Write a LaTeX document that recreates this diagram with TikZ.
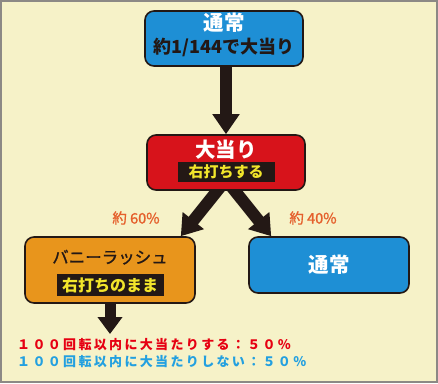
\documentclass[tikz,border=0pt]{standalone}
\usepackage{fontspec}
\setmainfont{Noto Sans CJK JP}
\usetikzlibrary{arrows.meta, positioning, calc, backgrounds}
\definecolor{Cream}{HTML}{F6F2C8}
\definecolor{FrameGray}{HTML}{8C8985}
\definecolor{FlowBlue}{HTML}{1E8FD5}
\definecolor{HitRed}{HTML}{D7131B}
\definecolor{RushOrange}{HTML}{E8951C}
\definecolor{InkBlack}{HTML}{231815}
\definecolor{BandYellow}{HTML}{F2E52B}
\definecolor{RateOrange}{HTML}{E5602C}
\definecolor{WinRed}{HTML}{E60012}
\definecolor{LoseBlue}{HTML}{23A0E0}
\tikzset{
  flowbox/.style={draw=InkBlack, line width=1.6pt, rounded corners=9pt, inner sep=0pt},
  bluebox/.style={flowbox, fill=FlowBlue, minimum width=158pt},
  redbox/.style={flowbox, fill=HitRed, minimum width=158pt, minimum height=55pt},
  orangebox/.style={flowbox, fill=RushOrange, minimum width=170pt, minimum height=66pt},
  whitetitle/.style={inner sep=0pt, text=white, font=\bfseries\fontsize{20.5}{20.5}\selectfont},
  darktitle/.style={inner sep=0pt, text=InkBlack, font=\bfseries\fontsize{18}{18}\selectfont},
  band/.style={fill=InkBlack, text=BandYellow, inner sep=0pt, font=\bfseries\fontsize{15}{15}\selectfont},
  ratelabel/.style={inner sep=0pt, text=RateOrange, font=\fontsize{14.5}{14.5}\selectfont\addfontfeature{FakeBold=1.2}},
  noteline/.style={inner sep=0pt, anchor=west, font=\bfseries\fontsize{13}{13}\selectfont\addfontfeature{LetterSpace=18}},
  bigarrow/.style={-{Triangle[length=20pt, width=26pt]}, line width=12pt, draw=InkBlack},
  smallarrow/.style={-{Triangle[length=17pt, width=24pt]}, line width=11pt, draw=InkBlack}
}

\begin{document}
\begin{tikzpicture}[x=1pt, y=-1pt]
\useasboundingbox (0,0) rectangle (438,383);
% boxes
\node[bluebox, minimum height=55pt] (start) at (224,38.5) {};
\node[redbox] (hit) at (226,162.5) {};
\node[orangebox] (rush) at (110,270) {};
\node[bluebox, minimum width=160pt, minimum height=56pt] (back) at (329,265) {};
% texts in the boxes
\node[whitetitle] (starttitle) at ([yshift=-12pt]start.north) {通常};
\node[darktitle] (startnote) at ([yshift=-37pt]start.north) {約1/144で大当り};
\node[whitetitle] (hittitle) at ([yshift=-15pt]hit.north) {大当り};
\node[band, minimum width=97pt, minimum height=20pt] (hitband) at ([yshift=-38pt]hit.north) {右打ちする};
\node[darktitle, font=\fontsize{16.5}{16.5}\selectfont\addfontfeature{FakeBold=1.2}] (rushtitle) at ([yshift=-21pt]rush.north) {バニーラッシュ};
\node[band, minimum width=107pt, minimum height=22pt, font=\bfseries\fontsize{16}{16}\selectfont] (rushband) at ([yshift=-49pt]rush.north) {右打ちのまま};
\node[whitetitle] (backtitle) at (back.center) {通常};
% rates
\node[ratelabel] (rate60) at (136,218) {約 60\%};
\node[ratelabel] (rate40) at (313,218) {約 40\%};
\coordinate (rushend) at (110,334);
\node[noteline, text=WinRed] (winline) at (17,345) {１００回転以内に大当たりする：５０％};
\node[noteline, text=LoseBlue] (loseline) at (17,362) {１００回転以内に大当たりしない：５０％};
\begin{scope}[on background layer]
\fill[Cream] (0,0) rectangle (438,383);
\draw[bigarrow] ([yshift=6pt]hit.north |- start.south) -- (hit.north);
\draw[bigarrow] ($(hit.south)+(-4,-6)$) -- ($(rush.north east)+(-15,0)$);
\draw[bigarrow] ($(hit.south)+(4,-6)$) -- ($(back.north west)+(23,0)$);
\draw[smallarrow] ([yshift=6pt]rush.south) -- (rushend);
\end{scope}
\draw[FrameGray, line width=2pt] (1,1) rectangle (437,382);
\end{tikzpicture}
\end{document}
